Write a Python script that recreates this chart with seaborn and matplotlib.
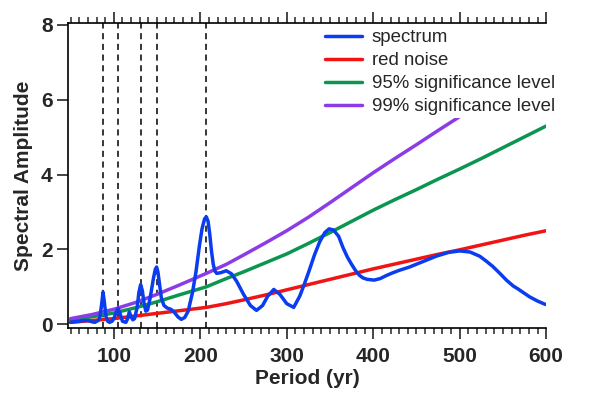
import numpy as np
import pandas as pd
import seaborn as sns
import matplotlib.pyplot as plt
from matplotlib.ticker import MultipleLocator

# data
spec_period = [50, 55, 60, 65, 70, 74, 78, 82, 84, 86, 87.5, 89, 91, 93, 95, 98, 100, 103, 105, 107,
               110, 114, 116, 118, 120, 122, 124, 127, 129, 131, 133, 135, 137, 139, 142, 146, 148,
               149.5, 151, 153, 155, 158, 162, 166, 170, 174, 178, 182, 186, 191, 195, 199, 202, 205,
               207, 209, 211, 213, 215, 217, 219, 224, 230, 236, 242, 250, 258, 265, 272, 278, 285,
               292, 300, 308, 315, 320, 326, 332, 338, 344, 349, 354, 360, 365, 370, 375, 380, 384,
               388, 393, 401, 408, 415, 422, 430, 442, 458, 473, 487, 500, 512, 523, 530, 538, 546,
               554, 562, 567, 574, 581, 590, 599]
spec_amp = [0.05, 0.07, 0.08, 0.1, 0.1, 0.07, 0.05, 0.1, 0.2, 0.55, 0.86, 0.6, 0.2, 0.08, 0.05,
            0.08, 0.15, 0.33, 0.42, 0.3, 0.08, 0.05, 0.15, 0.33, 0.2, 0.12, 0.15, 0.45, 0.85, 1.06,
            0.9, 0.55, 0.35, 0.38, 0.7, 1.25, 1.47, 1.53, 1.4, 1.05, 0.7, 0.5, 0.43, 0.4, 0.32,
            0.2, 0.13, 0.18, 0.35, 0.85, 1.4, 2.1, 2.55, 2.82, 2.87, 2.75, 2.4, 1.95, 1.6, 1.42,
            1.36, 1.38, 1.43, 1.35, 1.15, 0.8, 0.5, 0.37, 0.5, 0.75, 0.93, 0.8, 0.55, 0.45, 0.75,
            1.05, 1.44, 1.85, 2.2, 2.45, 2.55, 2.52, 2.35, 2.05, 1.8, 1.6, 1.42, 1.31, 1.24, 1.2,
            1.18, 1.22, 1.3, 1.37, 1.44, 1.53, 1.68, 1.82, 1.92, 1.96, 1.93, 1.82, 1.7, 1.55, 1.37,
            1.18, 1.02, 0.95, 0.84, 0.73, 0.62, 0.53]

sig_period = [50, 75, 100, 125, 150, 175, 207, 230, 250, 275, 300, 325, 350, 375, 400, 425, 450,
              475, 500, 525, 550, 575, 600]
red_noise = [0.05, 0.1, 0.15, 0.22, 0.29, 0.36, 0.45, 0.55, 0.65, 0.78, 0.92, 1.06, 1.2, 1.34,
             1.48, 1.61, 1.74, 1.87, 1.99, 2.12, 2.25, 2.38, 2.5]
sig95 = [0.12, 0.2, 0.3, 0.44, 0.6, 0.78, 1.0, 1.22, 1.4, 1.64, 1.88, 2.16, 2.45, 2.75, 3.05, 3.33,
         3.6, 3.88, 4.15, 4.43, 4.72, 5.01, 5.3]
sig99 = [0.15, 0.26, 0.4, 0.58, 0.8, 1.04, 1.36, 1.6, 1.85, 2.17, 2.5, 2.86, 3.25, 3.65, 4.05,
         4.43, 4.8, 5.18, 5.55, 5.93, 6.3, 6.68, 7.05]

peak_periods = [88, 105, 131, 150, 207]

spec_df = pd.DataFrame({"period": spec_period, "amp": spec_amp})
sig_df = pd.DataFrame({"period": sig_period, "red": red_noise, "s95": sig95, "s99": sig99})

sns.set_style("white")
plt.rcParams['font.family'] = ['Liberation Sans', 'DejaVu Sans']

fig = plt.figure(figsize=(6, 3.99), dpi=100)
ax = fig.add_axes([0.1133, 0.178, 0.797, 0.765])

for p in peak_periods:
    ax.axvline(p, color='black', ls=(0, (4, 3)), lw=1.1, zorder=1)

# keep the curves under the legend, and the legend under the spines/ticks
sns.lineplot(data=spec_df, x="period", y="amp", color="#0a3cf0", lw=2.5, label="spectrum", ax=ax, zorder=2.3)
sns.lineplot(data=sig_df, x="period", y="red", color="#f01414", lw=2.5, label="red noise", ax=ax, zorder=2.2)
sns.lineplot(data=sig_df, x="period", y="s95", color="#0a9650", lw=2.5, label="95% significance level", ax=ax, zorder=2.1)
sns.lineplot(data=sig_df, x="period", y="s99", color="#8c3ce6", lw=2.5, label="99% significance level", ax=ax, zorder=2.1)

ax.set_xlim(47, 600)
ax.set_ylim(-0.1, 8.06)
ax.set_xticks([100, 200, 300, 400, 500, 600])
ax.xaxis.set_minor_locator(MultipleLocator(10))
ax.set_yticks([0, 2, 4, 6, 8])

ax.tick_params(axis='x', which='major', direction='out', length=8, width=1.2, top=True, bottom=True,
               labelsize=15, pad=6)
ax.tick_params(axis='x', which='minor', direction='out', length=4.5, width=1.1, top=True, bottom=True)
ax.tick_params(axis='y', which='major', direction='out', length=8, width=1.2, left=True, right=False,
               labelsize=15, pad=3)
for lab in ax.get_xticklabels() + ax.get_yticklabels():
    lab.set_fontweight('bold')

for side in ['left', 'bottom', 'top']:
    ax.spines[side].set_color('black')
    ax.spines[side].set_linewidth(1.2)
ax.spines['right'].set_visible(False)

ax.set_xlabel("Period (yr)", fontsize=15, fontweight='bold', labelpad=2)
ax.set_ylabel("Spectral Amplitude", fontsize=15, fontweight='bold', labelpad=6)

leg = ax.legend(loc='upper left', bbox_to_anchor=(0.513, 1.018), frameon=True, fontsize=13.4,
                handlelength=1.95, handletextpad=0.55, labelspacing=0.32, borderpad=0.15)
leg.get_frame().set_facecolor('white')
leg.get_frame().set_edgecolor('none')
leg.get_frame().set_alpha(1)
leg.set_zorder(2.45)

fig.savefig("out.png", dpi=100)
